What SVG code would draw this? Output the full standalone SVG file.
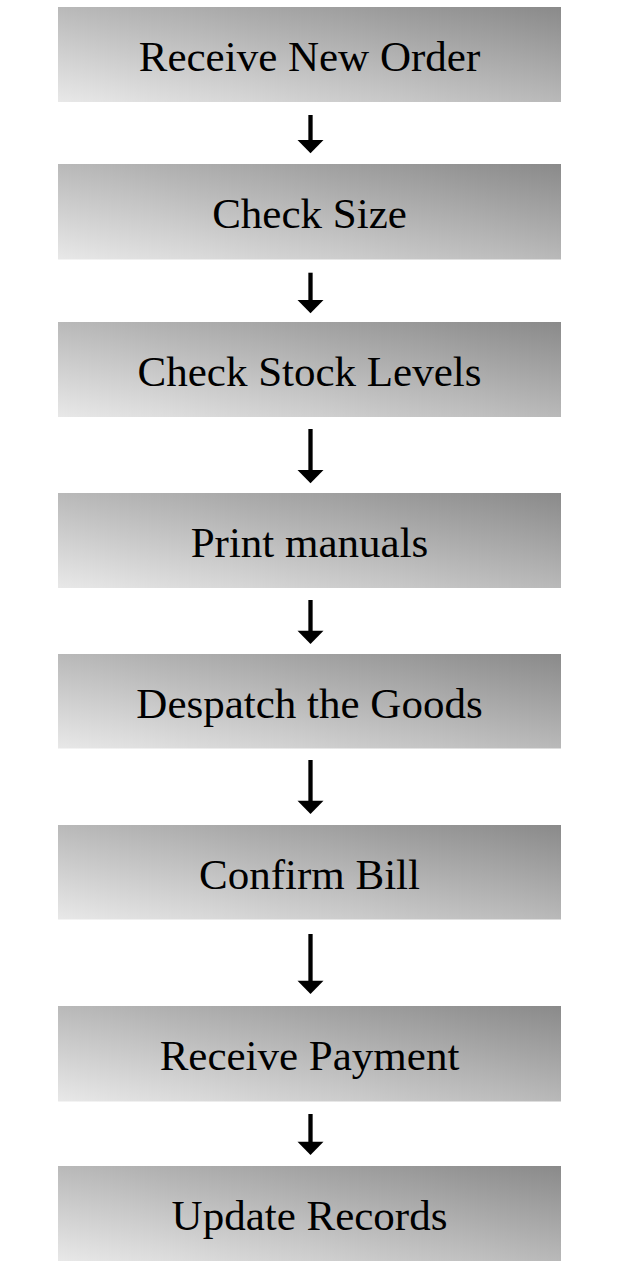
<svg xmlns="http://www.w3.org/2000/svg" width="630" height="1284" viewBox="0 0 630 1284">
<defs>
<linearGradient id="g" x1="0" y1="1" x2="1" y2="0">
<stop offset="0" stop-color="#e8e8e8"/>
<stop offset="1" stop-color="#8a8a8a"/>
</linearGradient>
</defs>
<style>
.box{fill:url(#g);}
.lbl{font-family:"Liberation Serif","Times New Roman",serif;font-size:43px;fill:#000;text-anchor:middle;}
.shaft{stroke:#000;stroke-width:4.3;fill:none;}
.head{fill:#000;}
</style>
<rect width="630" height="1284" fill="#fff"/>
<g id="n1"><rect class="box" x="58" y="7" width="503" height="95"/><text class="lbl" x="309.5" y="71">Receive New Order</text></g>
<g id="n2"><rect class="box" x="58" y="164" width="503" height="95.5"/><text class="lbl" x="309.5" y="228">Check Size</text></g>
<g id="n3"><rect class="box" x="58" y="322" width="503" height="95"/><text class="lbl" x="309.5" y="386">Check Stock Levels</text></g>
<g id="n4"><rect class="box" x="58" y="493" width="503" height="95"/><text class="lbl" x="309.5" y="557">Print manuals</text></g>
<g id="n5"><rect class="box" x="58" y="654" width="503" height="94.5"/><text class="lbl" x="309.5" y="718">Despatch the Goods</text></g>
<g id="n6"><rect class="box" x="58" y="825" width="503" height="94.5"/><text class="lbl" x="309.5" y="889">Confirm Bill</text></g>
<g id="n7"><rect class="box" x="58" y="1006" width="503" height="95.5"/><text class="lbl" x="309.5" y="1070">Receive Payment</text></g>
<g id="n8"><rect class="box" x="58" y="1166" width="503" height="95"/><text class="lbl" x="309.5" y="1230">Update Records</text></g>
<g id="connectors">
<line class="shaft" x1="310.5" y1="115" x2="310.5" y2="141"/><polygon class="head" points="297.5,140 323.5,140 310.5,153.3"/>
<line class="shaft" x1="310.5" y1="272.7" x2="310.5" y2="301"/><polygon class="head" points="297.5,300 323.5,300 310.5,313.3"/>
<line class="shaft" x1="310.5" y1="429" x2="310.5" y2="471"/><polygon class="head" points="297.5,470 323.5,470 310.5,483.3"/>
<line class="shaft" x1="310.5" y1="600" x2="310.5" y2="632"/><polygon class="head" points="297.5,630.7 323.5,630.7 310.5,644"/>
<line class="shaft" x1="310.5" y1="760" x2="310.5" y2="802"/><polygon class="head" points="297.5,800.7 323.5,800.7 310.5,814"/>
<line class="shaft" x1="310.5" y1="934" x2="310.5" y2="982"/><polygon class="head" points="297.5,980.7 323.5,980.7 310.5,994"/>
<line class="shaft" x1="310.5" y1="1114" x2="310.5" y2="1143"/><polygon class="head" points="297.5,1141.7 323.5,1141.7 310.5,1155"/>
</g>
</svg>
